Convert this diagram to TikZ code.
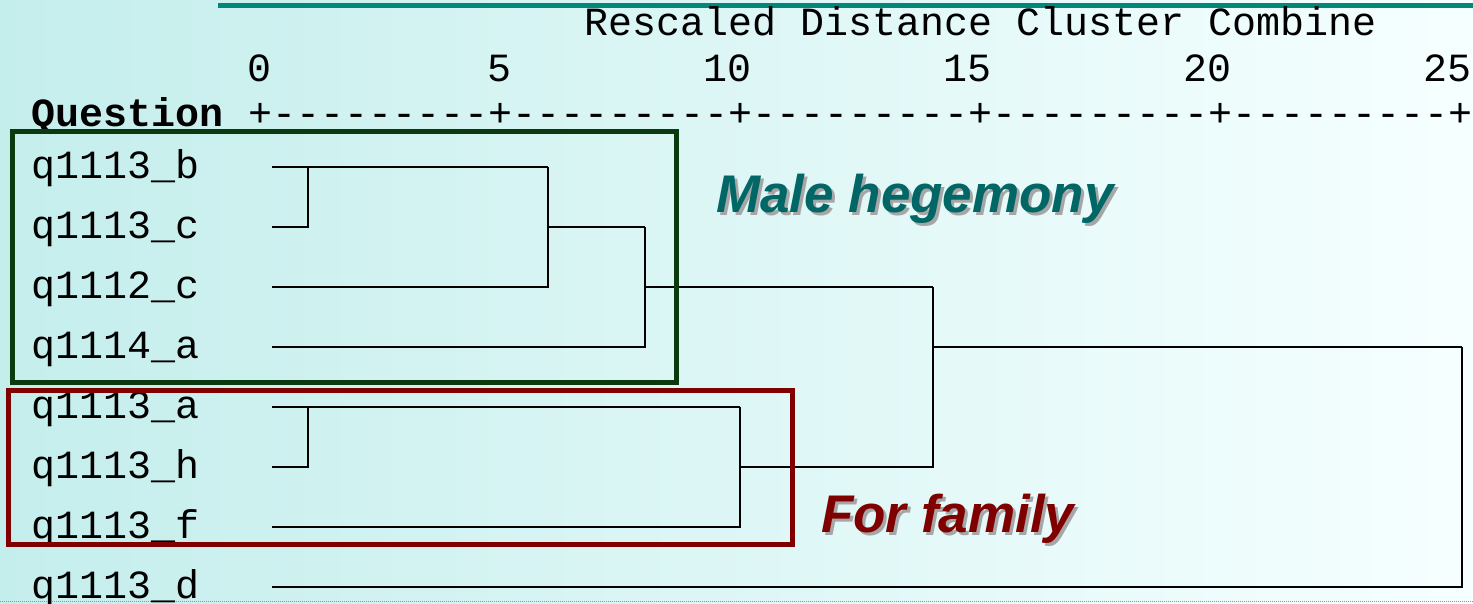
\documentclass[tikz,border=0pt]{standalone}
\usepackage{fontspec}
\usepackage{xcolor}
\newfontfamily\monofont{Liberation Mono}
\newfontfamily\headfont{Liberation Sans}
\definecolor{slideTeal}{HTML}{00897B}
\definecolor{boxGreen}{HTML}{0A3A0E}
\definecolor{boxRed}{HTML}{800000}
\definecolor{maleTeal}{HTML}{006666}
\definecolor{bgLeft}{HTML}{C4EEEC}
\definecolor{bgMid}{HTML}{D8F8F8}
\definecolor{bgRight}{HTML}{F6FFFF}

\tikzset{
    mono/.style={font=\monofont\fontsize{40}{48}\selectfont, inner sep=0pt, anchor=base west},
    tick/.style={mono, anchor=base east},
    tree/.style={line width=2.7pt, black},
    groupbox/.style={line width=5pt},
    heading/.style={font=\headfont\bfseries\itshape\fontsize{53}{60}\selectfont, inner sep=0pt, anchor=base west},
    headshadow/.style={heading, gray!70},
}

\begin{document}
\begin{tikzpicture}[x=1pt, y=-1pt]
                \useasboundingbox (0,0) rectangle (1473,603);
                \shade[left color=bgLeft, middle color=bgMid, right color=bgRight] (0,0) rectangle (1473,603);
                \draw[line width=5pt, slideTeal] (218,5) -- (1473,5);
                \draw[densely dotted, orange!80!brown, line width=1pt] (0,601) -- (1473,601);

                % axis
                \node[mono] (title) at (584,35) {Rescaled Distance Cluster Combine};
                \foreach \v [count=\i from 0] in {0,5,10,15,20,25}
                    \node[tick] (t\v) at (272+240*\i,81) {\v};
                \node[mono, font=\monofont\bfseries\fontsize{40}{48}\selectfont] (question) at (31,126) {Question};
                \node[mono] (ruler) at (248,126) {+---------+---------+---------+---------+---------+};

                % leaves
                \node[mono] (lb) at (31,178) {q1113\_b};
                \node[mono] (lc) at (31,238) {q1113\_c};
                \node[mono] (lc2) at (31,298) {q1112\_c};
                \node[mono] (la4) at (31,358) {q1114\_a};
                \node[mono] (la) at (31,418) {q1113\_a};
                \node[mono] (lh) at (31,478) {q1113\_h};
                \node[mono] (lf) at (31,538) {q1113\_f};
                \node[mono] (ld) at (31,598) {q1113\_d};

                \coordinate (b) at (272,167);
                \coordinate (c) at (272,227);
                \coordinate (c2) at (272,287);
                \coordinate (a4) at (272,347);
                \coordinate (a) at (272,407);
                \coordinate (h) at (272,467);
                \coordinate (f) at (272,527);
                \coordinate (d) at (272,587);

                % joins
                \coordinate (j1) at (308,167);
                \coordinate (j2) at (548,167);
                \coordinate (j3) at (645,227);
                \coordinate (j4) at (308,407);
                \coordinate (j5) at (740,407);
                \coordinate (j6) at (933,287);
                \coordinate (j7) at (1462,347);

                \draw[tree] (b) -- (j2);
                \draw[tree] (c) -| (j1);
                \draw[tree] (c2) -| (j2);
                \draw[tree] (j2 |- c) -- (j3);
                \draw[tree] (a4) -| (j3);
                \draw[tree] (j3 |- c2) -- (j6);
                \draw[tree] (a) -- (j5);
                \draw[tree] (h) -| (j4);
                \draw[tree] (f) -| (j5);
                \draw[tree] (j5 |- h) -| (j6);
                \draw[tree] (j6 |- a4) -- (j7);
                \draw[tree] (d) -| (j7);

                % groups
                \draw[groupbox, boxGreen] (12,131.5) rectangle (676,382);
                \draw[groupbox, boxRed] (8,390.5) rectangle (792.5,544.5);

                \node[headshadow] (maleshadow) at (719,215) {Male hegemony};
                \node[heading, maleTeal] (male) at (716,212) {Male hegemony};
                \node[headshadow] (familyshadow) at (824,535) {For family};
                \node[heading, boxRed] (family) at (821,532) {For family};
            \end{tikzpicture}
\end{document}
